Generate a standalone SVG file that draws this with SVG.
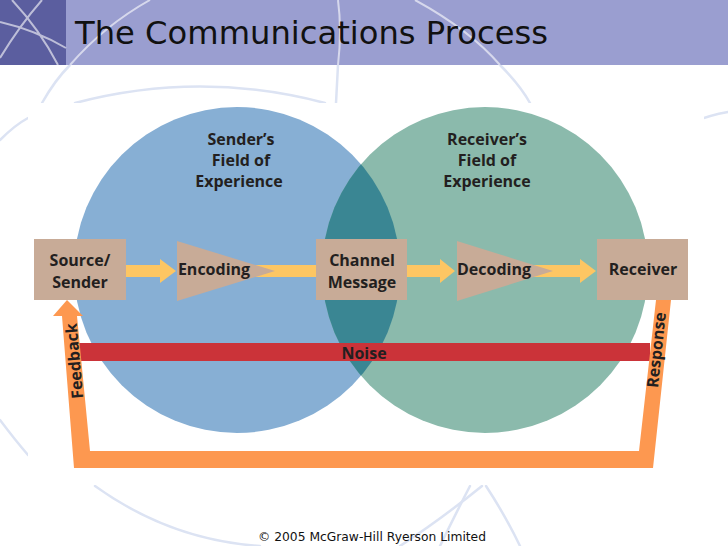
<svg xmlns="http://www.w3.org/2000/svg" width="728" height="546" viewBox="0 0 728 546">
<defs>
<style>
.lbl{font-family:"Open Sans","Liberation Sans",sans-serif;font-weight:700;font-size:16px;fill:#231f20;text-anchor:middle}
.box{fill:#c8ab97}
.flow{fill:#fdc663}
.deco{fill:none;stroke:#dce3f3;stroke-width:2.5;stroke-linecap:round}
.decoW{fill:none;stroke:#ffffff;stroke-opacity:0.6;stroke-width:2}
</style>
<clipPath id="clipBlue"><circle cx="237" cy="270" r="163"/></clipPath>
</defs>
<rect width="728" height="546" fill="#ffffff"/>
<g id="background">
<path class="deco" d="M42,103 Q55,80 70,65"/>
<path class="deco" d="M75,103 Q200,70 325,103"/>
<path class="deco" d="M338,65 L336,103"/>
<path class="deco" d="M500,65 Q520,85 530,103"/>
<path class="deco" d="M690,123 Q710,115 728,112"/>
<path class="deco" d="M95,486 Q170,540 260,546"/>
<path class="deco" d="M482,486 Q440,520 400,546"/>
<path class="deco" d="M470,486 Q455,515 440,546"/>
<path class="deco" d="M486,486 Q505,515 520,546"/>
<path class="deco" d="M0,140 Q15,125 28,118"/>
<path class="deco" d="M0,420 Q15,440 28,455"/>
</g>
<g id="title-bar">
<rect x="0" y="0" width="728" height="65" fill="#9a9ed0"/>
<rect x="0" y="0" width="66" height="65" fill="#5b5e9f"/>
<path class="decoW" d="M0,22 Q35,30 66,48 M12,0 Q40,30 58,65 M0,58 Q20,25 42,0"/>
<path class="decoW" d="M70,65 Q105,25 150,0"/>
<path class="decoW" d="M338,0 Q342,30 338,65"/>
<path class="decoW" d="M415,0 Q470,30 500,65"/>
<text x="75" y="44" font-family="DejaVu Sans, Verdana, sans-serif" font-size="32" fill="#111111" textLength="473" lengthAdjust="spacingAndGlyphs">The Communications Process</text>
</g>
<rect x="28" y="103" width="676" height="382" fill="#ffffff"/>
<g id="sender-field">
<circle cx="237" cy="270" r="163" fill="#87afd4"/>
<text class="lbl" x="241" y="145">Sender’s</text>
<text class="lbl" x="241" y="166">Field of</text>
<text class="lbl" x="239" y="187">Experience</text>
</g>
<g id="receiver-field">
<circle cx="485" cy="270" r="163" fill="#8bbaac"/>
<circle cx="485" cy="270" r="163" fill="#3a8693" clip-path="url(#clipBlue)"/>
<text class="lbl" x="487" y="145">Receiver’s</text>
<text class="lbl" x="487" y="166">Field of</text>
<text class="lbl" x="487" y="187">Experience</text>
</g>
<g id="connectors">
<path class="flow" d="M126,265 L160,265 L160,259 L176,271 L160,283 L160,277 L126,277 Z"/>
<rect class="flow" x="235" y="265" width="82" height="12"/>
<path class="flow" d="M407,265 L440,265 L440,259 L455,271 L440,283 L440,277 L407,277 Z"/>
<path class="flow" d="M520,265 L580,265 L580,259 L596,271 L580,283 L580,277 L520,277 Z"/>
<rect id="noise-bar" x="78" y="343" width="572" height="18" fill="#cb3339"/>
<polygon points="656,300 671,300 653,468 74,468 62,316 53,316 67,300 83,316 77,316 90,451 639,451" fill="#fd9850"/>
<text class="lbl" x="0" y="5" font-size="15.5" transform="translate(75,361) rotate(-95)">Feedback</text>
<text class="lbl" x="0" y="5" font-size="15.5" transform="translate(657,350) rotate(-84)">Response</text>
</g>
<g id="noise">
<text class="lbl" x="364" y="359" font-size="15.5">Noise</text>
</g>
<g id="source-sender">
<rect class="box" x="34" y="239" width="92" height="61"/>
<text class="lbl" x="80" y="266">Source/</text>
<text class="lbl" x="80" y="288">Sender</text>
</g>
<g id="encoding">
<polygon class="box" points="177,241 177,301 275,271"/>
<text class="lbl" x="214" y="275">Encoding</text>
</g>
<g id="channel-message">
<rect class="box" x="316" y="239" width="91" height="61"/>
<text class="lbl" x="362" y="266">Channel</text>
<text class="lbl" x="362" y="288">Message</text>
</g>
<g id="decoding">
<polygon class="box" points="457,241 457,301 553,271"/>
<text class="lbl" x="494" y="275">Decoding</text>
</g>
<g id="receiver">
<rect class="box" x="597" y="239" width="91" height="61"/>
<text class="lbl" x="643" y="275">Receiver</text>
</g>
<text x="372" y="541" font-family="DejaVu Sans, Verdana, sans-serif" font-size="12" fill="#111111" text-anchor="middle" textLength="228" lengthAdjust="spacingAndGlyphs">© 2005 McGraw-Hill Ryerson Limited</text>
</svg>
